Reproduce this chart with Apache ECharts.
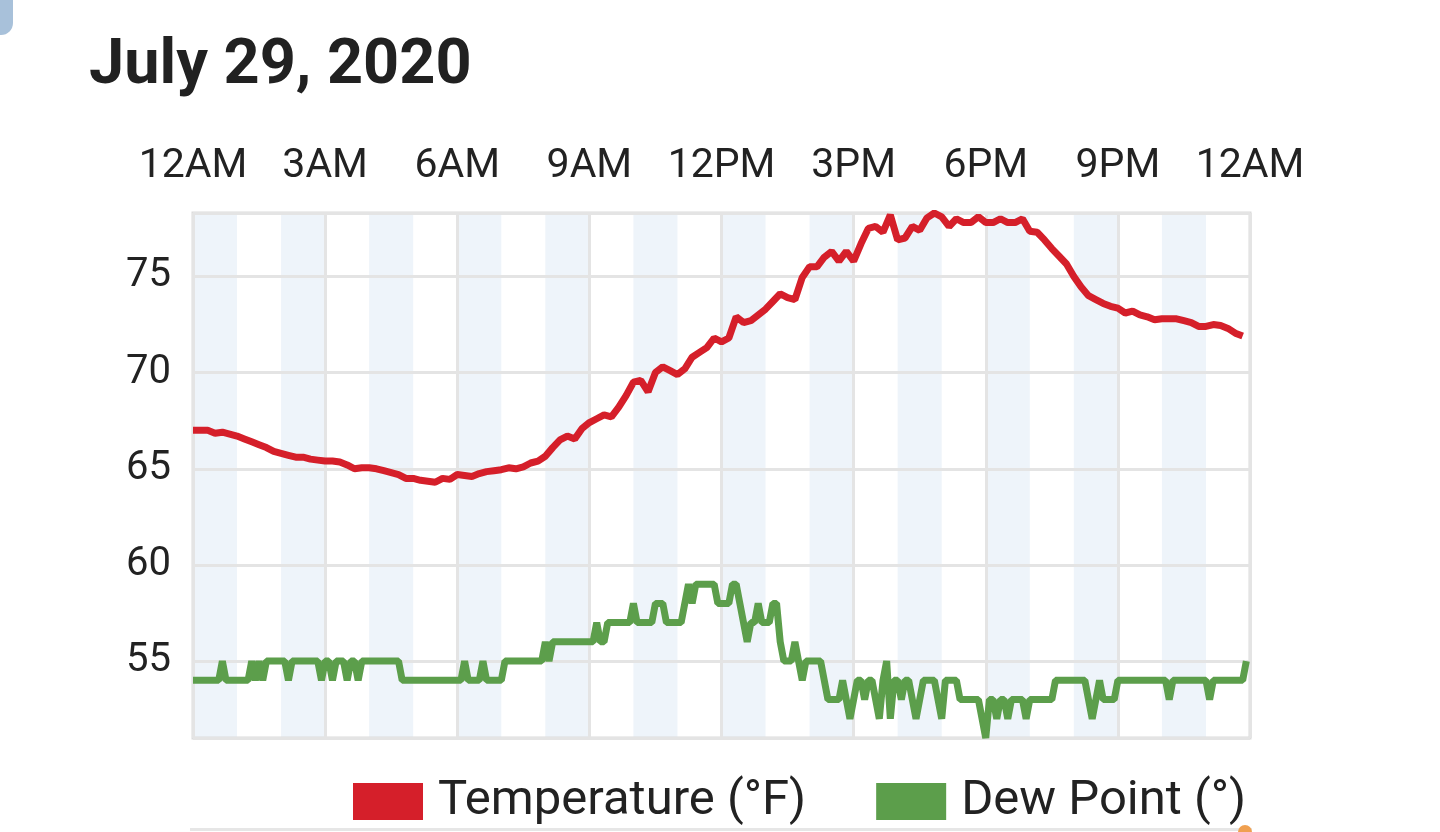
<!DOCTYPE html>
<html>
<head>
<meta charset="utf-8">
<title>July 29, 2020</title>
<script src="https://cdn.jsdelivr.net/npm/echarts@6/dist/echarts.min.js"></script>
<style>
	html, body { margin: 0; padding: 0; background: #fff; }
	#main { width: 1440px; height: 832px; }
</style>
</head>
<body>
<div id="main"></div>
<script>
// tick labels on the top axis, one every 3 hours
var hourLabels = [ '12AM', '3AM', '6AM', '9AM', '12PM', '3PM', '6PM', '9PM', '12AM' ];
var seriesNames = [ 'Temperature (°F)', 'Dew Point (°)' ];

// temperature, one reading every 10 minutes from 12AM
var tempF = [
	67.0, 67.0, 67.0, 66.85, 66.9, 66.8, 66.7, 66.55, 66.4, 66.25, 66.1, 65.9,
	65.8, 65.7, 65.6, 65.6, 65.5, 65.45, 65.4, 65.4, 65.35, 65.2, 65.0, 65.05,
	65.05, 65.0, 64.9, 64.8, 64.7, 64.5, 64.5, 64.4, 64.35, 64.3, 64.5, 64.45,
	64.7, 64.65, 64.6, 64.75, 64.85, 64.9, 64.95, 65.05, 65.0, 65.1, 65.3, 65.4,
	65.65, 66.1, 66.5, 66.7, 66.55, 67.1, 67.4, 67.6, 67.8, 67.7, 68.2, 68.8,
	69.5, 69.6, 69.0, 70.0, 70.3, 70.1, 69.9, 70.2, 70.8, 71.05, 71.3, 71.8,
	71.6, 71.8, 72.9, 72.6, 72.7, 73.0, 73.3, 73.7, 74.1, 73.9, 73.8, 74.95,
	75.5, 75.5, 76.0, 76.3, 75.8, 76.3, 75.8, 76.7, 77.5, 77.6, 77.3, 78.2,
	76.9, 77.0, 77.6, 77.4, 78.05, 78.3, 78.1, 77.6, 78.0, 77.8, 77.8, 78.1,
	77.8, 77.8, 78.0, 77.8, 77.8, 78.0, 77.35, 77.3, 76.9, 76.45, 76.05, 75.65,
	75.0, 74.45, 74.0, 73.8, 73.6, 73.45, 73.35, 73.1, 73.2, 73.0, 72.9, 72.75,
	72.8, 72.8, 72.8, 72.7, 72.6, 72.4, 72.4, 72.5, 72.45, 72.3, 72.05, 71.9
];

// dew point, one reading every 5 minutes from 12AM (one row = one hour)
var dewPoint = [
	54, 54, 54, 54, 54, 54, 54, 54, 55, 54, 54, 54,
	54, 54, 54, 54, 55, 54, 55, 54, 55, 55, 55, 55,
	55, 55, 54, 55, 55, 55, 55, 55, 55, 55, 55, 54,
	55, 55, 54, 55, 55, 55, 54, 55, 55, 54, 55, 55,
	55, 55, 55, 55, 55, 55, 55, 55, 55, 54, 54, 54,
	54, 54, 54, 54, 54, 54, 54, 54, 54, 54, 54, 54,
	54, 54, 55, 54, 54, 54, 54, 55, 54, 54, 54, 54,
	54, 55, 55, 55, 55, 55, 55, 55, 55, 55, 55, 55,
	56, 55, 56, 56, 56, 56, 56, 56, 56, 56, 56, 56,
	56, 56, 57, 56, 56, 57, 57, 57, 57, 57, 57, 57,
	58, 57, 57, 57, 57, 57, 58, 58, 58, 57, 57, 57,
	57, 57, 58, 59, 58, 59, 59, 59, 59, 59, 59, 58,
	58, 58, 58, 59, 59, 58, 57, 56, 57, 57, 58, 57,
	57, 57, 58, 58, 56, 55, 55, 55, 56, 55, 54, 55,
	55, 55, 55, 55, 54, 53, 53, 53, 53, 54, 53, 52,
	53, 54, 54, 53, 54, 54, 53, 52, 54, 55, 52, 54,
	54, 53, 54, 54, 53, 52, 53, 54, 54, 54, 54, 53,
	52, 54, 54, 54, 54, 53, 53, 53, 53, 53, 53, 52,
	51, 53, 53, 52, 53, 53, 52, 53, 53, 53, 53, 52,
	53, 53, 53, 53, 53, 53, 53, 54, 54, 54, 54, 54,
	54, 54, 54, 54, 53, 52, 53, 54, 53, 53, 53, 53,
	54, 54, 54, 54, 54, 54, 54, 54, 54, 54, 54, 54,
	54, 54, 53, 54, 54, 54, 54, 54, 54, 54, 54, 54,
	54, 53, 54, 54, 54, 54, 54, 54, 54, 54, 54, 55
];

var tempStep = 10; // minutes between temperature readings
var dewStep = 5;   // minutes between dew point readings

var tempData = [];
for (var i = 0; i < tempF.length; i++) {
	tempData.push([ i * tempStep, tempF[i] ]);
}
var dewData = [];
for (var j = 0; j < dewPoint.length; j++) {
	dewData.push([ j * dewStep, dewPoint[j] ]);
}

var font = 'Roboto, "Noto Sans", sans-serif';
var gridColor = '#e4e4e4';

var myChart = echarts.init(document.getElementById('main'));

var option = {
	animation : false,
	backgroundColor : '#ffffff',
	title : {
		text : 'July 29, 2020',
		left : 84,
		top : 31,
		textStyle : {
			fontFamily : font,
			fontSize : 63,
			fontWeight : 'bold',
			color : '#212121'
		}
	},
	legend : {
		data : seriesNames,
		left : 348,
		top : 772,
		icon : 'rect',
		itemWidth : 70,
		itemHeight : 37,
		itemGap : 70,
		textStyle : {
			fontFamily : font,
			fontSize : 49,
			color : '#222222',
			padding : [ 0, 0, 0, 10 ]
		}
	},
	grid : {
		left : 193,
		right : 190,
		top : 213,
		bottom : 94,
		show : true,
		borderColor : '#dcdcdc',
		borderWidth : 3
	},
	xAxis : [ {
		type : 'value',
		position : 'top',
		min : 0,
		max : 1440,
		interval : 180,
		axisLine : { show : false },
		axisTick : { show : false },
		axisLabel : {
			margin : 26,
			fontFamily : font,
			fontSize : 41,
			color : '#222222',
			formatter : function(v) {
				return hourLabels[Math.round(v / 180)];
			}
		},
		splitLine : {
			show : true,
			lineStyle : { color : gridColor, width : 3 }
		}
	}, {
		// hourly shading bands
		type : 'value',
		position : 'bottom',
		min : 0,
		max : 1440,
		interval : 60,
		z : -1,
		axisLine : { show : false },
		axisTick : { show : false },
		axisLabel : { show : false },
		splitLine : { show : false },
		splitArea : {
			show : true,
			areaStyle : { color : [ '#eef4fa', 'rgba(255,255,255,0)' ] }
		}
	} ],
	yAxis : {
		type : 'value',
		min : 51,
		max : 78.3,
		axisLine : { show : false },
		axisTick : { show : false },
		axisLabel : {
			margin : 22,
			fontFamily : font,
			fontSize : 40,
			color : '#222222',
			showMinLabel : false,
			showMaxLabel : false
		},
		splitLine : {
			show : true,
			lineStyle : { color : gridColor, width : 3 }
		}
	},
	series : [ {
		name : seriesNames[0],
		type : 'line',
		xAxisIndex : 0,
		data : tempData,
		showSymbol : false,
		color : '#d51f2a',
		lineStyle : { width : 7, color : '#d51f2a' },
		z : 3
	}, {
		name : seriesNames[1],
		type : 'line',
		xAxisIndex : 0,
		data : dewData,
		showSymbol : false,
		color : '#5c9e4b',
		lineStyle : { width : 7, color : '#5c9e4b' },
		z : 3
	} ],
	graphic : [ {
		type : 'rect',
		left : -20,
		top : -20,
		shape : { width : 33, height : 55, r : 12 },
		style : { fill : '#a8c1da' }
	}, {
		type : 'rect',
		left : 190,
		top : 828,
		shape : { width : 1062, height : 3 },
		style : { fill : '#e6e6e6' }
	}, {
		type : 'circle',
		left : 1238,
		top : 825,
		shape : { r : 7 },
		style : { fill : '#f0a050' }
	} ]
};

myChart.setOption(option);
</script>
</body>
</html>
